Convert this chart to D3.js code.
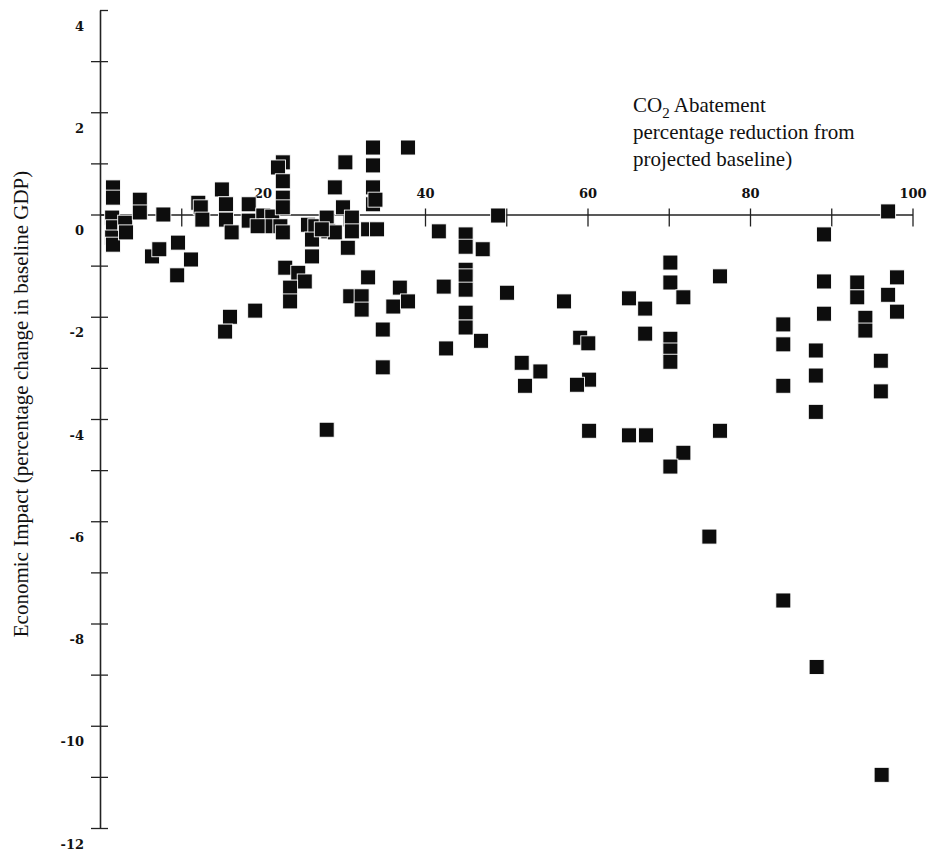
<!doctype html>
<html lang="en">
<head>
<meta charset="utf-8">
<script src="https://cdn.jsdelivr.net/npm/d3@7"></script>
<style>
  body { margin: 0; background: #fff; }
  .tick-label { font-family: "DejaVu Serif", serif; font-weight: bold; font-size: 13px; fill: #111; }
  .title { font-family: "Liberation Serif", "Times New Roman", serif; font-size: 21px; fill: #111; }
</style>
</head>
<body>
<div id="chart"></div>
<script>
// CO2 abatement (% reduction from projected baseline)
const abatement = [
  1.6, 1.6, 1.5, 1.6, 1.5, 1.6, 3.1, 3.2, 4.9, 4.9, 7.8, 6.4, 7.3, 9.6, 11.2, 9.5,
  12.1, 12.4, 12.6, 15.0, 15.5, 15.5, 16.2, 18.3, 18.3, 16.0, 19.1, 15.4,
  20.1, 21.2, 20.6, 22.2, 22.5, 22.5, 21.9, 22.5, 22.5, 22.5, 19.4,
  22.8, 24.4, 25.2, 23.4, 23.4,
  25.6, 26.5, 26.1, 26.1, 27.9, 28.1, 28.9, 29.9, 31.0, 31.0, 30.5, 33.0, 34.1,
  28.9, 30.2, 33.6, 33.6, 33.6, 33.6, 37.9, 27.3, 33.9,
  33.0, 30.8, 32.2, 32.2, 34.8, 36.9, 36.1, 37.9, 34.8, 27.9,
  49.0, 41.7, 45.0, 45.0, 47.1, 45.0, 45.0, 45.0, 42.3, 45.0, 45.0, 46.9, 42.6,
  50.1, 57.1, 59.1, 60.1, 51.9, 54.2, 52.3, 60.2, 58.7, 60.2,
  70.2, 70.2, 71.8, 76.3, 65.1, 67.1, 67.1, 70.2, 70.2, 70.2,
  76.3, 65.1, 67.2, 71.8, 70.2, 75.0,
  97.0, 89.1, 89.1, 93.2, 93.2, 98.1, 97.0, 98.1, 89.1, 94.2, 94.2,
  84.1, 84.1, 84.1, 88.1, 88.1, 88.1, 96.1, 96.1, 84.1, 88.2, 96.2
];

// economic impact (% change in baseline GDP)
const gdpImpact = [
  0.53, 0.33, -0.06, -0.25, -0.45, -0.59, -0.16, -0.35, 0.29, 0.04, 0, -0.82, -0.68, -0.55, -0.88, -1.19,
  0.23, 0.14, -0.10, 0.49, 0.20, -0.10, -0.35, 0.20, -0.12, -2.00, -1.88, -2.29,
  -0.02, -0.04, -0.23, -0.23, -0.35, 1.02, 0.92, 0.65, 0.33, 0.14, -0.23,
  -1.04, -1.14, -1.31, -1.43, -1.70,
  -0.20, -0.23, -0.49, -0.82, -0.06, -0.33, -0.35, 0.14, -0.06, -0.33, -0.65, -0.29, -0.29,
  0.53, 1.02, 1.31, 0.96, 0.53, 0.20, 1.31, -0.29, 0.29,
  -1.23, -1.60, -1.60, -1.86, -2.25, -1.43, -1.80, -1.70, -2.99, -4.21,
  -0.02, -0.33, -0.39, -0.63, -0.68, -1.08, -1.21, -1.47, -1.41, -1.92, -2.21, -2.47, -2.62,
  -1.53, -1.70, -2.41, -2.52, -2.90, -3.07, -3.35, -3.23, -3.33, -4.23,
  -0.94, -1.33, -1.62, -1.21, -1.64, -1.84, -2.33, -2.43, -2.66, -2.88,
  -4.23, -4.32, -4.32, -4.66, -4.93, -6.30,
  0.06, -0.39, -1.31, -1.33, -1.62, -1.23, -1.57, -1.90, -1.94, -2.02, -2.27,
  -2.15, -2.54, -3.35, -2.66, -3.15, -3.86, -2.86, -3.46, -7.55, -8.85, -10.96
];

const xTicks = [10, 20, 30, 40, 50, 60, 70, 80, 90, 100];
const xLabels = ['', '20', '', '40', '', '60', '', '80', '', '100'];
const yTicks = d3.range(-12, 5);
const yLabels = ['-12', '', '-10', '', '-8', '', '-6', '', '-4', '', '-2', '', '0', '', '2', '', '4'];

const xTitle = ['percentage reduction from', 'projected baseline)'];
const yTitle = 'Economic Impact (percentage change in baseline GDP)';

const width = 928, height = 850;
const points = abatement.map((a, i) => ({ a: a, g: gdpImpact[i] }));

const x = d3.scaleLinear().domain([0, 100]).range([100, 912.5]);
const y = d3.scaleLinear().domain([-12, 4]).range([828, 10]);

const svg = d3.select('#chart')
  .append('svg')
  .attr('width', width)
  .attr('height', height);

// y axis
const yAxis = d3.axisLeft(y)
  .tickValues(yTicks)
  .tickSizeOuter(0)
  .tickFormat((d, i) => yLabels[i]);

const gy = svg.append('g')
  .attr('transform', 'translate(' + x(0) + ',0)')
  .call(yAxis);

gy.select('.domain').attr('stroke', '#222').attr('stroke-width', 1.6);
gy.selectAll('.tick line')
  .attr('stroke', '#222')
  .attr('stroke-width', 1.3)
  .attr('x1', d => d === 4 ? 0 : -9)
  .attr('x2', 8);
gy.selectAll('.tick text')
  .attr('class', 'tick-label')
  .attr('x', -16)
  .attr('y', 20)
  .attr('dy', 0);

// x axis along the zero line, labels above
const xAxis = d3.axisTop(x)
  .tickValues(xTicks)
  .tickSizeOuter(0)
  .tickFormat((d, i) => xLabels[i]);

const gx = svg.append('g')
  .attr('transform', 'translate(0,' + y(0) + ')')
  .call(xAxis);

gx.select('.domain').attr('stroke', '#222').attr('stroke-width', 1.3);
gx.selectAll('.tick line')
  .attr('stroke', '#222')
  .attr('stroke-width', 1.3)
  .attr('y1', -6)
  .attr('y2', 12);
gx.selectAll('.tick text')
  .attr('class', 'tick-label')
  .attr('y', -17)
  .attr('dy', 0);

// axis titles
const t1 = svg.append('text')
  .attr('class', 'title')
  .attr('x', 633)
  .attr('y', 112);
t1.append('tspan').text('CO');
t1.append('tspan').attr('font-size', 15).attr('dy', 6).text('2');
t1.append('tspan').attr('dy', -6).text(' Abatement');

svg.selectAll('.xtitle')
  .data(xTitle)
  .enter()
  .append('text')
  .attr('class', 'title xtitle')
  .attr('x', 633)
  .attr('y', (d, i) => 139 + i * 27)
  .text(d => d);

svg.append('text')
  .attr('class', 'title')
  .attr('transform', 'translate(28,404) rotate(-90)')
  .attr('text-anchor', 'middle')
  .attr('font-size', 21.5)
  .text(yTitle);

// squares
const s = 15;
svg.selectAll('rect.pt')
  .data(points)
  .enter()
  .append('rect')
  .attr('class', 'pt')
  .attr('x', d => x(d.a) - s / 2)
  .attr('y', d => y(d.g) - s / 2)
  .attr('width', s)
  .attr('height', s)
  .attr('fill', '#0d0d0d')
  .attr('stroke', '#fff')
  .attr('stroke-width', 0.9);
</script>
</body>
</html>
